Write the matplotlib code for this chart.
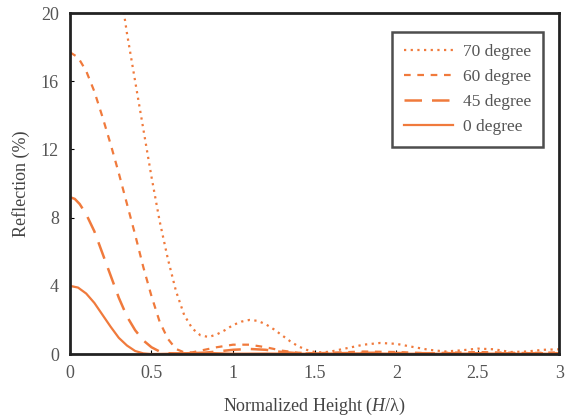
import numpy as np
import matplotlib
matplotlib.use("Agg")
import matplotlib.pyplot as plt

plt.rcParams['font.family'] = ['Liberation Serif', 'DejaVu Serif']
plt.rcParams['mathtext.fontset'] = 'custom'
plt.rcParams['mathtext.it'] = 'Liberation Serif:italic'
plt.rcParams['mathtext.rm'] = 'Liberation Serif'

# 0 degree
x0 = [0, 0.05, 0.1, 0.15, 0.2, 0.25, 0.3, 0.35, 0.4, 0.45, 0.5, 0.6, 0.7, 0.8, 0.9,
      1.0, 1.2, 1.4, 1.6, 1.8, 2.0, 2.2, 2.5, 2.8, 3.0]
r0 = [4.0, 3.9, 3.55, 3.0, 2.3, 1.6, 0.95, 0.5, 0.18, 0.04, 0.0, 0.02, 0.05, 0.08, 0.05,
      0.02, 0.03, 0.02, 0.03, 0.04, 0.02, 0.02, 0.03, 0.02, 0.02]

# 45 degree
x45 = [0, 0.03, 0.06, 0.1, 0.15, 0.2, 0.25, 0.3, 0.35, 0.4, 0.45, 0.5, 0.55, 0.6, 0.7, 0.8,
       0.9, 1.0, 1.1, 1.2, 1.3, 1.4, 1.5, 1.7, 1.9, 2.1, 2.4, 2.7, 3.0]
r45 = [9.2, 9.1, 8.8, 8.2, 7.2, 5.9, 4.6, 3.3, 2.2, 1.4, 0.8, 0.4, 0.15, 0.05, 0.02, 0.05,
       0.15, 0.25, 0.3, 0.25, 0.12, 0.05, 0.02, 0.06, 0.08, 0.05, 0.05, 0.04, 0.05]

# 60 degree
x60 = [0, 0.05, 0.1, 0.15, 0.2, 0.25, 0.3, 0.35, 0.4, 0.45, 0.5, 0.55, 0.6, 0.65, 0.7,
       0.75, 0.8, 0.9, 1.0, 1.1, 1.2, 1.3, 1.4, 1.5, 1.6, 1.8, 2.0, 2.2, 2.5, 2.8, 3.0]
r60 = [17.7, 17.4, 16.6, 15.4, 13.9, 12.3, 10.6, 8.8, 7.0, 5.1, 3.4, 1.9, 0.9, 0.3, 0.1,
       0.1, 0.2, 0.4, 0.55, 0.55, 0.4, 0.2, 0.08, 0.05, 0.08, 0.15, 0.12, 0.05, 0.12, 0.06, 0.1]

# 70 degree
x70 = [0.3, 0.35, 0.4, 0.45, 0.5, 0.55, 0.6, 0.65, 0.7, 0.75, 0.8, 0.85, 0.9, 0.95,
       1.0, 1.05, 1.1, 1.15, 1.2, 1.25, 1.3, 1.35, 1.4, 1.45, 1.5, 1.55, 1.6, 1.7,
       1.8, 1.9, 2.0, 2.1, 2.2, 2.3, 2.4, 2.5, 2.6, 2.7, 2.8, 2.9, 3.0]
r70 = [22.0, 18.8, 16.0, 13.2, 10.4, 7.8, 5.6, 3.7, 2.3, 1.5, 1.1, 1.0, 1.15, 1.4,
       1.7, 1.9, 2.0, 1.95, 1.75, 1.45, 1.1, 0.75, 0.45, 0.25, 0.12, 0.1, 0.15, 0.35,
       0.55, 0.65, 0.6, 0.42, 0.25, 0.15, 0.22, 0.32, 0.28, 0.12, 0.15, 0.25, 0.28]

labels = ['70 degree', '60 degree', '45 degree', '0 degree']
color = '#f07a3c'

fig = plt.figure(figsize=(5.68, 4.2), dpi=100)
ax = fig.add_axes([0.123, 0.157, 0.862, 0.812])

ax.plot(x70, r70, color=color, lw=1.6, linestyle=(0, (1, 2)), label=labels[0])
ax.plot(x60, r60, color=color, lw=1.6, linestyle=(0, (3, 3)), label=labels[1])
ax.plot(x45, r45, color=color, lw=1.8, linestyle=(0, (7, 4)), label=labels[2])
ax.plot(x0, r0, color=color, lw=1.6, linestyle='-', label=labels[3])

ax.set_xlim(0, 3)
ax.set_ylim(0, 20)
ax.set_xticks([0, 0.5, 1, 1.5, 2, 2.5, 3])
ax.set_xticklabels(['0', '0.5', '1', '1.5', '2', '2.5', '3'])
ax.set_yticks([0, 4, 8, 12, 16, 20])
ax.tick_params(direction='in', length=3, labelsize=13, labelcolor='#555555', pad=8)
for s in ax.spines.values():
    s.set_linewidth(2)
    s.set_color('#222222')

ax.set_xlabel('Normalized Height ($\\mathit{H}$/λ)', fontsize=13, color='#444444', labelpad=10)
ax.set_ylabel('Reflection (%)', fontsize=13, color='#444444', labelpad=8)

leg = ax.legend(loc='upper right', fontsize=12.5, frameon=True, fancybox=False,
                edgecolor='#222222', handlelength=2.8, labelspacing=0.5,
                borderpad=0.7, handletextpad=0.6, bbox_to_anchor=(0.985, 0.97))
leg.get_frame().set_linewidth(1.8)
for t in leg.get_texts():
    t.set_color('#555555')

fig.savefig('out.png', dpi=100)
